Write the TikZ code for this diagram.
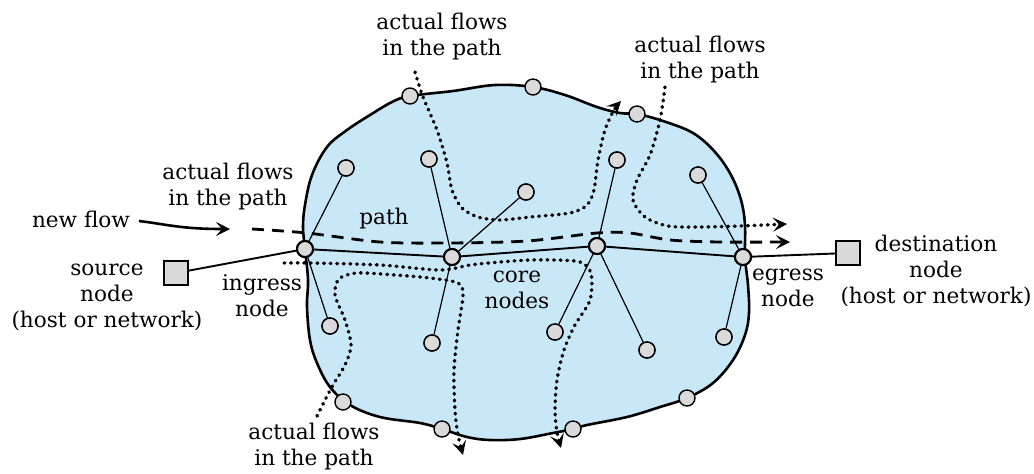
\documentclass[tikz,border=0pt]{standalone}
\usepackage{fontspec}
\setmainfont{DejaVu Serif}
\usetikzlibrary{arrows.meta}
\definecolor{cloudblue}{RGB}{200,232,248}
\definecolor{nodegray}{RGB}{218,218,218}
\begin{document}
\begin{tikzpicture}[x=0.5pt,y=-0.5pt,
  lbl/.style={align=center, font=\fontsize{10.8}{13}\selectfont, inner sep=0pt},
  rnode/.style={circle, draw, fill=nodegray, minimum size=8pt, inner sep=0pt, line width=0.7pt},
  pnode/.style={rnode, line width=1pt},
  host/.style={draw, fill=nodegray, minimum size=12pt, inner sep=0pt, line width=0.9pt},
  link/.style={line width=0.6pt},
  pathlink/.style={line width=0.95pt},
  flowtip/.style={-{Stealth[length=7pt,width=7pt,inset=3pt]}},
  flow/.style={flowtip, line width=1.7pt, line cap=round, dash pattern=on 0.4pt off 2.9pt},
  newflow/.style={flowtip, line width=1.4pt, dash pattern=on 6pt off 4pt}]
\useasboundingbox (0,0) rectangle (1034,473);

% the network cloud
\draw[line width=1.3pt, fill=cloudblue] plot[smooth cycle, tension=0.6] coordinates {
  (305,249) (303,227) (305,205) (312,175) (327,147) (347,130) (370,115)
  (392,102) (410,96) (453,91) (495,85) (533,87) (565,95) (597,107)
  (620,113) (637,114) (663,121) (693,133) (715,152) (731,175) (741,200)
  (745,225) (745,257) (748,285) (749,313) (745,335) (733,360) (713,383)
  (687,398) (660,407) (627,417) (587,425) (573,429) (553,433) (520,439)
  (490,440) (467,437) (442,429) (420,423) (380,417) (350,405) (330,387)
  (317,363) (310,340) (307,307) (308,280)};

% new flow along the path
\draw[newflow] plot[smooth] coordinates {(252,229) (307,233) (380,242) (447,243)
  (527,241) (597,233) (630,233) (670,240) (720,242) (790,242)};

% existing flows
\draw[flow] plot[smooth] coordinates {(415,72) (423,97) (437,130) (447,163) (452,190)
  (462,208) (478,217) (500,220) (530,217) (570,213) (587,205) (594,190) (598,160)
  (605,130) (614,110) (621,101)};
\draw[flow] plot[smooth] coordinates {(665,87) (660,120) (650,155) (637,180) (633,200)
  (645,217) (668,226) (700,227) (740,226) (787,224)};
\draw[flow] plot[smooth] coordinates {(284,263) (310,263) (380,265) (440,270) (470,265)
  (500,262) (530,260) (555,260) (580,262) (591,273) (590,300) (575,325) (564,350)
  (557,380) (555,410) (557,432) (561,448)};
\draw[flow] plot[smooth] coordinates {(317,416) (325,400) (333,385) (345,365) (351,345)
  (345,320) (335,295) (339,279) (357,273) (395,275) (430,278) (458,283) (463,295)
  (458,330) (454,370) (455,410) (458,435) (463,455)};

% hosts and path nodes
\node[host] (src) at (176,273) {};
\node[host] (dst) at (848,253) {};
\node[pnode] (ing) at (305,249) {};
\node[pnode] (c1) at (452,257) {};
\node[pnode] (c2) at (597,246) {};
\node[pnode] (egr) at (743,257) {};

% branch nodes inside the cloud
\node[rnode] (l1) at (346,168) {};
\node[rnode] (l2) at (330,326) {};
\node[rnode] (l3) at (429,159) {};
\node[rnode] (l4) at (526,192) {};
\node[rnode] (l5) at (432,343) {};
\node[rnode] (l6) at (617,160) {};
\node[rnode] (l7) at (555,332) {};
\node[rnode] (l8) at (647,350) {};
\node[rnode] (l9) at (698,175) {};
\node[rnode] (l10) at (724,337) {};

% nodes on the border of the cloud
\node[rnode] (b1) at (410,96) {};
\node[rnode] (b2) at (533,87) {};
\node[rnode] (b3) at (637,114) {};
\node[rnode] (b4) at (687,398) {};
\node[rnode] (b5) at (573,429) {};
\node[rnode] (b6) at (442,429) {};
\node[rnode] (b7) at (343,402) {};

% links
\draw[pathlink] (src) -- (ing) -- (c1) -- (c2) -- (egr) -- (dst);
\draw[link] (ing) -- (l1);
\draw[link] (ing) -- (l2);
\draw[link] (c1) -- (l3);
\draw[link] (c1) -- (l4);
\draw[link] (c1) -- (l5);
\draw[link] (c2) -- (l6);
\draw[link] (c2) -- (l7);
\draw[link] (c2) -- (l8);
\draw[link] (egr) -- (l9);
\draw[link] (egr) -- (l10);

% redraw nodes on top of the links
\foreach \n in {ing,c1,c2,egr} \node[pnode] at (\n) {};
\foreach \n in {l1,l2,l3,l4,l5,l6,l7,l8,l9,l10} \node[rnode] at (\n) {};

% labels
\node[lbl] (t1) at (442,37) {actual flows\\in the path};
\node[lbl] (t2) at (700,60) {actual flows\\in the path};
\node[lbl] (t3) at (228,187) {actual flows\\in the path};
\node[lbl] (t4) at (314,447) {actual flows\\in the path};
\node[lbl] (nf) at (81,219) {new flow};
\node[lbl] (pth) at (384,219) {path};
\node[lbl] (srcl) at (107,297) {source\\node\\(host or network)};
\node[lbl] (ingl) at (262,296) {ingress\\node};
\node[lbl] (corel) at (517,290) {core\\nodes};
\node[lbl] (egrl) at (788,288) {egress\\node};
\node[lbl] (dstl) at (936,271) {destination\\node\\(host or network)};

\coordinate (nfstart) at (139,221);
\coordinate (nfend) at (230,229);
\draw[flowtip, line width=1.3pt] (nfstart) .. controls (165,224) and (180,229) .. (nfend);
\end{tikzpicture}
\end{document}
